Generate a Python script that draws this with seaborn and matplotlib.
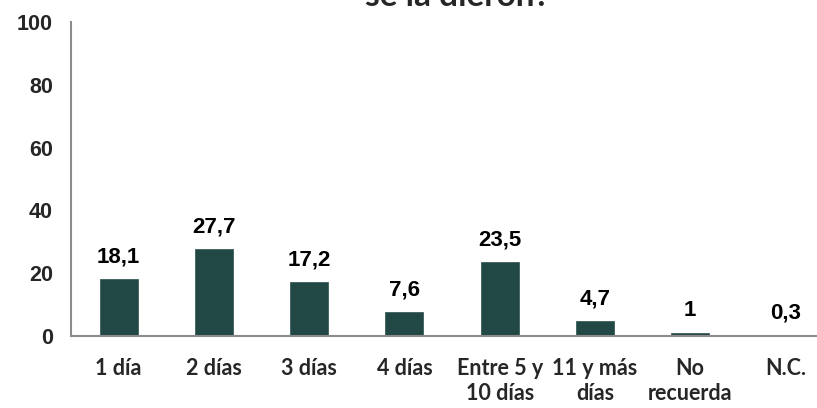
import matplotlib
matplotlib.use('Agg')
import matplotlib.pyplot as plt
import seaborn as sns
import numpy as np

# Datos
categorias = ['1 día', '2 días', '3 días', '4 días', 'Entre 5 y\n10 días',
              '11 y más\ndías', 'No\nrecuerda', 'N.C.']
valores = [18.1, 27.7, 17.2, 7.6, 23.5, 4.7, 1, 0.3]
etiquetas = [f'{v:g}'.replace('.', ',') for v in valores]
y_ticks = [0, 20, 40, 60, 80, 100]
titulo = 'se la dieron?'

sns.set_style('white')
plt.rcParams['font.family'] = ['Liberation Sans', 'DejaVu Sans']

color_barra = '#224845'
color_eje = '#8c8c8c'

fig = plt.figure(figsize=(8.17, 4.08), dpi=100)
ax = fig.add_axes([71 / 817, 72 / 408, 762 / 817, 314 / 408])

sns.barplot(x=categorias, y=valores, color=color_barra, width=0.4,
            edgecolor='#3e5f5c', linewidth=0.6, saturation=1, ax=ax)

# Etiquetas de valor
for i, (v, t) in enumerate(zip(valores, etiquetas)):
    ax.annotate(t, (i, v), xytext=(0, 12), textcoords='offset points',
                ha='center', va='baseline', fontsize=16, fontweight='bold',
                color='black')

ax.set_xlim(-0.5, len(categorias) - 0.5)
ax.set_ylim(0, 100)
ax.set_yticks(y_ticks)
ax.set_yticklabels([str(t) for t in y_ticks], fontsize=15.5, fontweight='bold')

# Marcas del eje x entre categorías
ax.set_xticks(np.arange(len(categorias)))
ax.set_xticklabels(categorias, fontsize=15.5, fontweight='bold',
                   family=['Lato', 'DejaVu Sans'], linespacing=1.25)
ax.set_xticks(np.arange(len(categorias) + 1) - 0.5, minor=True)
ax.tick_params(axis='x', which='major', length=0, pad=16)
ax.tick_params(axis='x', which='minor', length=6, width=1.2, color=color_eje,
               direction='out')
ax.tick_params(axis='y', length=5, width=1.2, color=color_eje, pad=8,
               direction='out')

for lado in ['top', 'right']:
    ax.spines[lado].set_visible(False)
for lado in ['left', 'bottom']:
    ax.spines[lado].set_color(color_eje)
    ax.spines[lado].set_linewidth(1.5)

ax.set_xlabel('')
ax.set_ylabel('')

fig.text(457 / 817, 1 - 6 / 408, titulo, ha='center', va='baseline',
         fontsize=24, fontweight='bold', family=['Lato', 'DejaVu Sans'])

fig.savefig('out.png', dpi=100)
